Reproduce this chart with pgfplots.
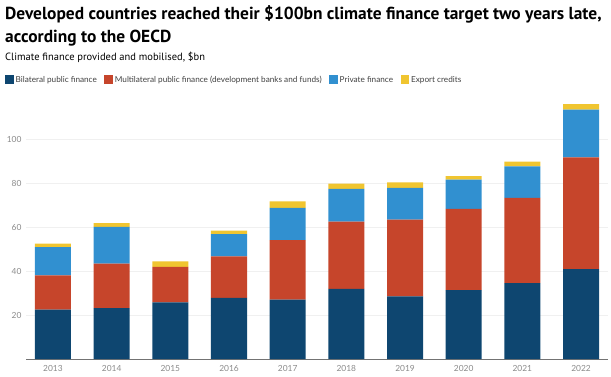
\documentclass[border=0pt]{standalone}
\usepackage{pgfplots}
\pgfplotsset{compat=1.18}
\usepackage{fontspec}
\setmainfont{Lato}
\newfontfamily\titlefont{PT Sans}
\definecolor{cbil}{HTML}{0E4670}
\definecolor{cmul}{HTML}{C6452B}
\definecolor{cpri}{HTML}{3190D0}
\definecolor{cexp}{HTML}{F0C530}
\definecolor{ctick}{HTML}{8A8A8A}
\begin{document}
\begin{tikzpicture}[x=1pt,y=1pt]
\useasboundingbox (0,0) rectangle (611,376);
\coordinate (O) at (26,17);
\node[anchor=base west,inner sep=0pt] at (5,356.5) {\titlefont\fontsize{17.4}{20}\selectfont\bfseries Developed countries reached their \$100bn climate finance target two years late,};
\node[anchor=base west,inner sep=0pt] at (5,333.5) {\titlefont\fontsize{17.4}{20}\selectfont\bfseries according to the OECD};
\node[anchor=base west,inner sep=0pt] at (5,315.5) {\titlefont\fontsize{10.5}{12}\selectfont Climate finance provided and mobilised, \$bn};
\begin{axis}[
  at={(O)}, anchor=south west,
  scale only axis, width=582pt, height=264pt,
  ybar stacked, bar width=36pt,
  xmin=-0.46, xmax=9.46, ymin=0, ymax=120,
  xtick=data,
  xticklabels={2013,2014,2015,2016,2017,2018,2019,2020,2021,2022},
  ytick={20,40,60,80,100},
  ymajorgrids, grid style={draw=black!6, line width=0.6pt},
  axis x line*=bottom, axis y line*=left,
  y axis line style={draw=none},
  x axis line style={draw=black!55, line width=0.8pt, -},
  xtick style={draw=none}, ytick style={draw=none}, major tick length=0pt,
  tick label style={font=\fontsize{8.4}{10}\selectfont, text=ctick},
  /pgf/number format/assume math mode=true,
  yticklabel style={anchor=east, xshift=-1pt},
  xticklabel style={yshift=-3pt},
  legend style={at={(rel axis cs:0,1)}, anchor=north west, xshift=-24pt, yshift=23pt, draw=none, fill=none,
    legend columns=4, font=\fontsize{8.2}{9}\selectfont, text=black!75,
    /tikz/every even column/.append style={column sep=5.5pt}},
  legend image code/.code={\draw[#1, draw=none] (0pt,-4pt) rectangle (8.5pt,5pt);},
  clip=false,
]
\addplot[fill=cbil, draw=none] coordinates {(0,22.5) (1,23.1) (2,25.7) (3,27.8) (4,27.0) (5,31.9) (6,28.5) (7,31.3) (8,34.5) (9,40.9)};
\addplot[fill=cmul, draw=none] coordinates {(0,15.5) (1,20.3) (2,16.2) (3,18.9) (4,27.0) (5,30.5) (6,34.9) (7,36.9) (8,38.7) (9,50.7)};
\addplot[fill=cpri, draw=none] coordinates {(0,12.9) (1,16.7) (2,0) (3,10.1) (4,14.7) (5,14.9) (6,14.4) (7,13.3) (8,14.4) (9,21.7)};
\addplot[fill=cexp, draw=none] coordinates {(0,1.5) (1,1.7) (2,2.5) (3,1.6) (4,3.0) (5,2.4) (6,2.5) (7,1.6) (8,2.1) (9,2.6)};
\legend{Bilateral public finance, Multilateral public finance (development banks and funds), Private finance, Export credits}
\end{axis}
\end{tikzpicture}
\end{document}
